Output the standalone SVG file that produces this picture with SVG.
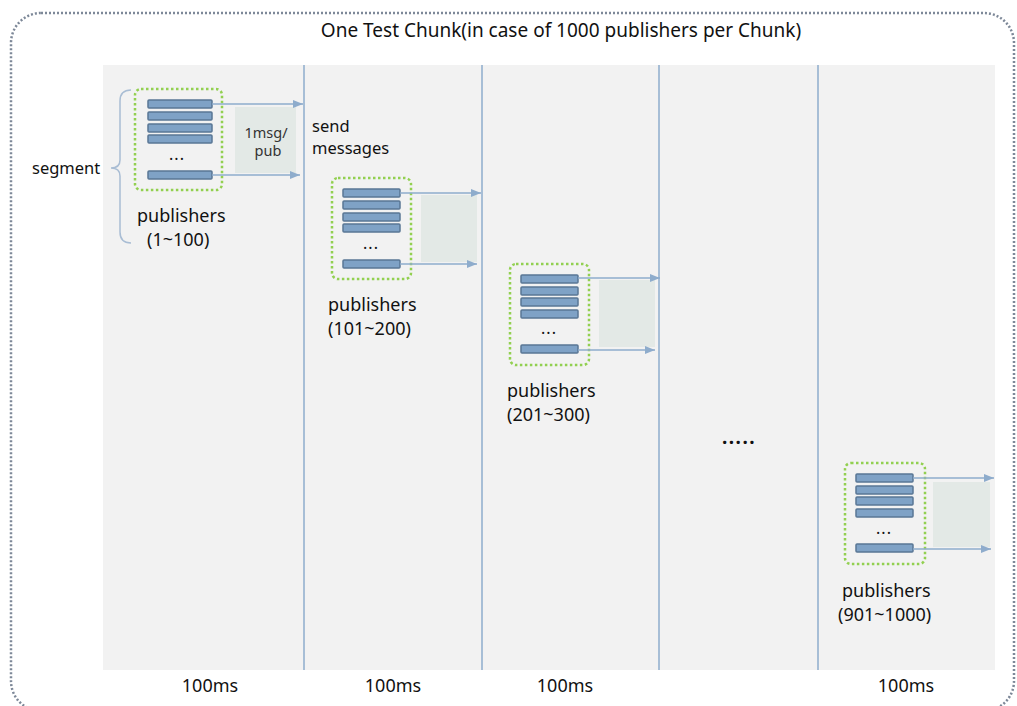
<svg xmlns="http://www.w3.org/2000/svg" width="1017" height="706" viewBox="0 0 1017 706">
  <style>
    text { font-family: "Noto Sans", "Open Sans", sans-serif; fill: #111; }
    .title { font-size: 19px; }
    .lbl { font-size: 18px; }
    .small { font-size: 14.5px; fill: #333; text-anchor: middle; }
    .note { font-size: 16.5px; }
    .ms { font-size: 18px; text-anchor: middle; }
    .dots { font-size: 16px; text-anchor: middle; letter-spacing: 1px; }
    .bar { fill: #7fa2c6; stroke: #5a7795; stroke-width: 1.5; }
    .grp { fill: none; stroke: #92d050; stroke-width: 2.5; stroke-dasharray: 2.5 2.5; }
    .shade { fill: #e3e9e6; }
    .flow { stroke: #8eaccc; stroke-width: 1.5; fill: none; }
    .divider { stroke: #8eaccc; stroke-width: 1.5; }
  </style>
  <defs>
    <marker id="tip" viewBox="0 0 10 8" refX="10" refY="4" markerWidth="10" markerHeight="8" markerUnits="userSpaceOnUse" orient="auto">
      <path d="M0,0 L10,4 L0,8 Z" fill="#8eaccc"/>
    </marker>
  </defs>

  <rect width="1017" height="706" fill="#ffffff"/>

  <!-- chunk frame -->
  <rect x="11" y="13" width="1003" height="698" rx="30" fill="none" stroke="#7d8898" stroke-width="2.5" stroke-dasharray="2 2"/>
  <text class="title" x="561" y="37" text-anchor="middle">One Test Chunk(in case of 1000 publishers per Chunk)</text>

  <!-- time area -->
  <rect x="103" y="65" width="892" height="605" fill="#f2f2f2"/>
  <g id="dividers">
    <line class="divider" x1="304" y1="65" x2="304" y2="670"/>
    <line class="divider" x1="482" y1="65" x2="482" y2="670"/>
    <line class="divider" x1="659" y1="65" x2="659" y2="670"/>
    <line class="divider" x1="818" y1="65" x2="818" y2="670"/>
  </g>

  <!-- message windows -->
  <rect class="shade" x="235" y="107" width="61" height="66"/>
  <rect class="shade" x="421" y="195" width="56" height="67"/>
  <rect class="shade" x="599" y="280" width="56" height="67"/>
  <rect class="shade" x="933" y="482" width="57" height="65"/>

  <!-- segment brace -->
  <path d="M131,90 Q120,90 120,101 L120,160 Q120,168 111,168 Q120,168 120,176 L120,232 Q120,243 131,243" fill="none" stroke="#a9bdd4" stroke-width="1.5"/>
  <text class="note" x="32" y="174">segment</text>

  <g id="seg1">
    <rect class="grp" x="135" y="89" width="87" height="101" rx="6"/>
    <rect class="bar" x="148" y="100" width="64" height="8" rx="1"/>
    <rect class="bar" x="148" y="112" width="64" height="8" rx="1"/>
    <rect class="bar" x="148" y="124" width="64" height="8" rx="1"/>
    <rect class="bar" x="148" y="135" width="64" height="8" rx="1"/>
    <text class="dots" x="177" y="160">...</text>
    <rect class="bar" x="148" y="171" width="64" height="8" rx="1"/>
    <text class="lbl" x="137" y="222">publishers</text>
    <text class="lbl" x="147" y="246">(1~100)</text>
  </g>

  <g id="seg2">
    <rect class="grp" x="332" y="178" width="79" height="101" rx="6"/>
    <rect class="bar" x="343" y="189" width="57" height="8" rx="1"/>
    <rect class="bar" x="343" y="201" width="57" height="8" rx="1"/>
    <rect class="bar" x="343" y="213" width="57" height="8" rx="1"/>
    <rect class="bar" x="343" y="224" width="57" height="8" rx="1"/>
    <text class="dots" x="371" y="249">...</text>
    <rect class="bar" x="343" y="260" width="57" height="8" rx="1"/>
    <text class="lbl" x="328" y="311">publishers</text>
    <text class="lbl" x="328" y="335">(101~200)</text>
  </g>

  <g id="seg3">
    <rect class="grp" x="510" y="264" width="79" height="101" rx="6"/>
    <rect class="bar" x="521" y="275" width="57" height="8" rx="1"/>
    <rect class="bar" x="521" y="287" width="57" height="8" rx="1"/>
    <rect class="bar" x="521" y="298" width="57" height="8" rx="1"/>
    <rect class="bar" x="521" y="310" width="57" height="8" rx="1"/>
    <text class="dots" x="549" y="334">...</text>
    <rect class="bar" x="521" y="345" width="57" height="8" rx="1"/>
    <text class="lbl" x="507" y="397">publishers</text>
    <text class="lbl" x="507" y="421">(201~300)</text>
  </g>

  <text class="dots" x="739" y="444" style="font-size:19px;font-weight:bold;letter-spacing:1.5px">.....</text>

  <g id="seg10">
    <rect class="grp" x="845" y="463" width="80" height="101" rx="6"/>
    <rect class="bar" x="856" y="474" width="57" height="8" rx="1"/>
    <rect class="bar" x="856" y="486" width="57" height="8" rx="1"/>
    <rect class="bar" x="856" y="497" width="57" height="8" rx="1"/>
    <rect class="bar" x="856" y="509" width="57" height="8" rx="1"/>
    <text class="dots" x="884" y="534">...</text>
    <rect class="bar" x="856" y="544" width="57" height="8" rx="1"/>
    <text class="lbl" x="842" y="597">publishers</text>
    <text class="lbl" x="838" y="621">(901~1000)</text>
  </g>

  <g id="connectors">
    <line class="flow" x1="212" y1="104" x2="303" y2="104" marker-end="url(#tip)"/>
    <line class="flow" x1="212" y1="175" x2="300" y2="175" marker-end="url(#tip)"/>
    <line class="flow" x1="400" y1="193" x2="481" y2="193" marker-end="url(#tip)"/>
    <line class="flow" x1="400" y1="264" x2="477" y2="264" marker-end="url(#tip)"/>
    <line class="flow" x1="578" y1="278" x2="660" y2="278" marker-end="url(#tip)"/>
    <line class="flow" x1="578" y1="350" x2="655" y2="350" marker-end="url(#tip)"/>
    <line class="flow" x1="913" y1="478" x2="994" y2="478" marker-end="url(#tip)"/>
    <line class="flow" x1="913" y1="549" x2="991" y2="549" marker-end="url(#tip)"/>
  </g>

  <text class="small" x="266" y="138">1msg/</text>
  <text class="small" x="268" y="156">pub</text>
  <text class="note" x="312" y="132">send</text>
  <text class="note" x="312" y="154">messages</text>

  <text class="ms" x="210" y="692">100ms</text>
  <text class="ms" x="393" y="692">100ms</text>
  <text class="ms" x="565" y="692">100ms</text>
  <text class="ms" x="906" y="692">100ms</text>
</svg>
